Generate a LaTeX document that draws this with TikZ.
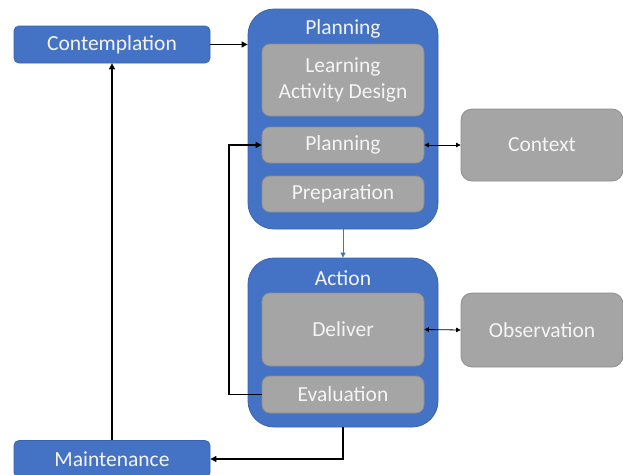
\documentclass[tikz,border=0pt]{standalone}
\usepackage{fontspec}
\setmainfont{Carlito}
\usetikzlibrary{arrows.meta}
\definecolor{accentblue}{HTML}{4472C4}
\definecolor{blueedge}{HTML}{3A63AE}
\definecolor{boxgray}{HTML}{A5A5A5}
\definecolor{grayedge}{HTML}{8E8E8E}
\definecolor{labelwhite}{HTML}{F4F4F4}
\tikzset{
  stage/.style={draw=blueedge, line width=0.8pt, fill=accentblue, rounded corners=5pt,
    text=labelwhite, font=\fontsize{21.5}{26}\selectfont, inner sep=0pt},
  phase/.style={draw=blueedge, line width=0.8pt, fill=accentblue, rounded corners=26pt,
    inner sep=0pt, minimum width=190pt},
  phasetitle/.style={text=labelwhite, font=\fontsize{21.5}{26}\selectfont, inner sep=0pt},
  step box/.style={draw=grayedge, line width=0.8pt, fill=boxgray, rounded corners=8pt,
    text=labelwhite, font=\fontsize{21.5}{25.5}\selectfont, inner sep=0pt, align=center,
    minimum width=162pt},
  side box/.style={step box, rounded corners=11pt},
  flow/.style={line width=1.2pt, -{Triangle[length=6pt,width=6pt]}},
  link/.style={line width=0.8pt, {Triangle[length=4.5pt,width=4.5pt]}-{Triangle[length=4.5pt,width=4.5pt]}},
  handoff/.style={draw=accentblue, line width=0.8pt, -{Triangle[length=5pt,width=5pt]}},
}
\begin{document}
\begin{tikzpicture}[x=1pt, y=-1pt]
\clip (0,0) rectangle (623,474);
\fill[white] (0,0) rectangle (623,474);

% outer stages
\node[stage, minimum width=196pt, minimum height=37pt] (contemp) at (112,44.5) {Contemplation};
\node[stage, minimum width=196pt, minimum height=37pt] (maint) at (112,459) {Maintenance};

% planning phase
\node[phase, minimum height=220pt] (plan) at (343,119) {};
\node[phasetitle] (plantitle) at (343,29) {Planning};
\node[step box, minimum height=72pt] (lad) at (343,80) {Learning\\Activity Design};
\node[step box, minimum height=36pt] (planin) at (343,145) {Planning};
\node[step box, minimum height=36pt] (prep) at (343,194) {Preparation};

% action phase
\node[phase, minimum height=169pt] (act) at (343,342.5) {};
\node[phasetitle] (acttitle) at (343,278) {Action};
\node[step box, minimum height=73pt] (deliver) at (343,329.5) {Deliver};
\node[step box, minimum height=37pt] (eval) at (343,394.5) {Evaluation};

% side boxes
\node[side box, minimum height=72pt] (ctx) at (542,145) {Context};
\node[side box, minimum height=74pt] (obs) at (542,330) {Observation};

% connectors
\coordinate (loopx) at (229,0);
\draw[flow] (contemp.east) -- (contemp.east -| plan.west);
\draw[flow] (maint.north) -- (contemp.south);
\draw[flow] (eval.west) -- (eval.west -| loopx) |- (planin.west);
\draw[flow] (act.south) |- (maint.east);
\draw[handoff] (plan.south) -- (act.north);
\draw[link] (planin.east) -- (ctx.west);
\draw[link] (deliver.east) -- (obs.west);
\end{tikzpicture}
\end{document}
